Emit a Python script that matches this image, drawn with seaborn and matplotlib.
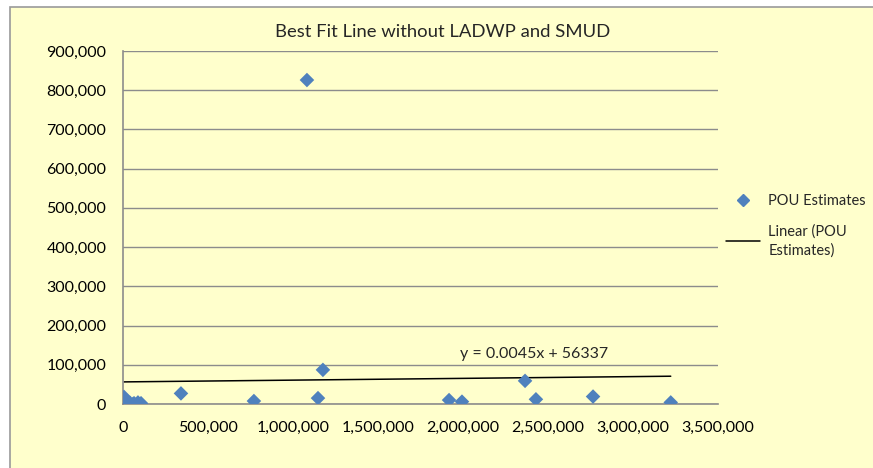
import matplotlib
matplotlib.use('Agg')
import matplotlib.pyplot as plt
import matplotlib.patches as mpatches
from matplotlib.lines import Line2D
from matplotlib.ticker import FuncFormatter
import seaborn as sns
import pandas as pd
import numpy as np

# POU estimates
x_vals = [6000, 24000, 30000, 41000, 59000, 65000, 88000, 106000,
          341000, 770000, 1082000, 1147000, 1176000, 1918000, 1994000,
          2365000, 2429000, 2765000, 3222000]
y_vals = [18000, 8000, 1000, 3000, 0, 2000, 4000, 2000,
          27000, 7600, 826000, 15000, 87000, 10000, 6000,
          59000, 12000, 19000, 4000]

# linear trend from the label
slope = 0.0045
intercept = 56337
trend_label = 'y = 0.0045x + 56337'

df = pd.DataFrame({'x': x_vals, 'y': y_vals})
trend = pd.DataFrame({'x': [min(x_vals), max(x_vals)]})
trend['y'] = slope * trend['x'] + intercept

sns.set_style('white')
plt.rcParams['font.family'] = ['Lato', 'DejaVu Sans']

bg = '#FFFFCC'
blue = '#4F81BD'
grey = '#8C8C8C'

fig = plt.figure(figsize=(8.73, 4.68), dpi=100)
fig.patch.set_facecolor('white')
fig.patches.append(mpatches.Rectangle((10 / 873, -0.01), 1.0, 1 - 7 / 468 + 0.01,
                                      transform=fig.transFigure, facecolor=bg,
                                      edgecolor='#9A9A9A', linewidth=1.2, zorder=-10))

ax = fig.add_axes([123 / 873, 1 - 404 / 468, (718 - 123) / 873, (404 - 51) / 468])
ax.set_facecolor(bg)

sns.lineplot(data=trend, x='x', y='y', ax=ax, color='black', linewidth=1.1, zorder=2)
sns.scatterplot(data=df, x='x', y='y', ax=ax, marker='D', s=55, color=blue,
                edgecolor='none', zorder=3)

ax.set_xlim(0, 3500000)
ax.set_ylim(0, 900000)
ax.set_xticks(np.arange(0, 3500001, 500000))
ax.set_yticks(np.arange(0, 900001, 100000))
fmt = FuncFormatter(lambda v, p: f'{int(v):,}')
ax.xaxis.set_major_formatter(fmt)
ax.yaxis.set_major_formatter(fmt)
ax.tick_params(axis='both', labelsize=11.5, colors=grey, labelcolor='black',
               length=5, width=1, direction='out')
ax.tick_params(axis='x', pad=7)
ax.tick_params(axis='y', pad=7)
ax.set_xlabel('')
ax.set_ylabel('')
ax.grid(axis='y', color=grey, linewidth=1)
ax.set_axisbelow(True)
for side in ['top', 'right']:
    ax.spines[side].set_visible(False)
for side in ['left', 'bottom']:
    ax.spines[side].set_color(grey)
    ax.spines[side].set_linewidth(1.2)

ax.text(1980000, 128000, trend_label, fontsize=11.5, va='center', ha='left')
fig.text(0.507, 1 - 32 / 468, 'Best Fit Line without LADWP and SMUD',
         fontsize=13.3, ha='center', va='center')

handles = [Line2D([], [], marker='D', linestyle='none', color=blue, markersize=6),
           Line2D([], [], color='black', linewidth=1.1)]
leg = fig.legend(handles, ['POU Estimates', 'Linear (POU\nEstimates)'],
                 loc='upper left', bbox_to_anchor=(713 / 873, 1 - 181 / 468),
                 frameon=False, fontsize=10.5, handlelength=2.3, labelspacing=1.1,
                 handletextpad=0.6)
for t in leg.get_texts():
    t.set_linespacing(1.45)

fig.savefig('out.png', dpi=100, facecolor=fig.get_facecolor())
